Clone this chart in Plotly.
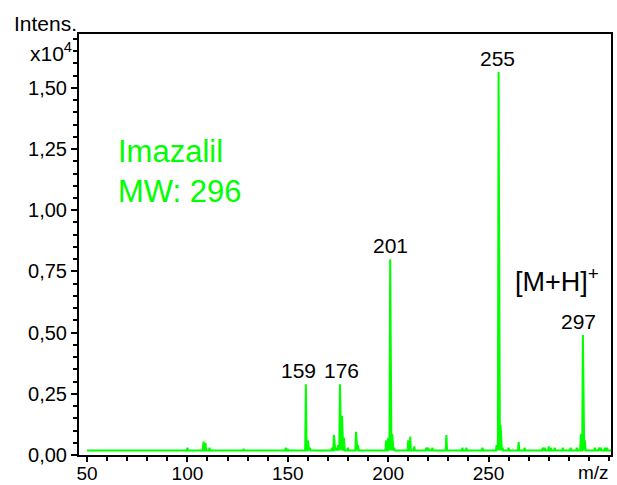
import plotly.graph_objects as go

# Mass spectrum of Imazalil (intensity in units of 1e4)
peak_mz = [100, 108, 109, 111, 128, 149, 150, 159, 160, 161, 172, 173, 174, 175, 176, 177, 178, 180,
           184, 185, 199, 200, 201, 202, 203, 210, 211, 213, 219, 220, 222, 229, 237, 239, 247,
           254, 255, 256, 257, 260, 265, 268, 277, 278, 280, 281, 283, 287, 291, 294, 296, 297, 298,
           303, 305, 306, 308, 309]
peak_int = [0.03, 0.055, 0.05, 0.03, 0.025, 0.03, 0.025, 0.289, 0.06, 0.03, 0.03, 0.082, 0.03, 0.04, 0.289, 0.16, 0.07, 0.03,
            0.095, 0.04, 0.06, 0.07, 0.80, 0.085, 0.03, 0.06, 0.075, 0.035, 0.03, 0.03, 0.03, 0.082, 0.03, 0.03, 0.03,
            0.04, 1.565, 0.123, 0.03, 0.03, 0.053, 0.03, 0.03, 0.03, 0.035, 0.03, 0.03, 0.03, 0.03, 0.03, 0.086, 0.49, 0.06,
            0.03, 0.03, 0.03, 0.03, 0.03]
baseline = 0.018
mz_start, mz_end = 50, 311

labeled_mz = [159, 176, 201, 255, 297]
label_xshift = [-7, 2, 0, -1, -4]

# Build a stick-profile trace from the peak list
xs = [mz_start]
ys = [baseline]
for m, h in sorted(zip(peak_mz, peak_int)):
    xs += [m - 0.35, m, m + 0.35]
    ys += [baseline, h, baseline]
xs.append(mz_end)
ys.append(baseline)

fig = go.Figure()
fig.add_trace(go.Scatter(x=xs, y=ys, mode="lines",
                         line=dict(color="#00ff00", width=2), hoverinfo="skip"))

font = "Arial"
lookup = dict(zip(peak_mz, peak_int))
for m, dx in zip(labeled_mz, label_xshift):
    fig.add_annotation(x=m, y=lookup[m], text=str(m), showarrow=False,
                       yanchor="bottom", yshift=0, xshift=dx,
                       font=dict(family=font, size=21, color="black"))

fig.add_annotation(x=0.07, y=0.72, xref="paper", yref="paper", text="Imazalil",
                   showarrow=False, xanchor="left", yanchor="middle",
                   font=dict(family=font, size=31, color="#00ff00"))
fig.add_annotation(x=0.07, y=0.627, xref="paper", yref="paper", text="MW: 296",
                   showarrow=False, xanchor="left", yanchor="middle",
                   font=dict(family=font, size=31, color="#00ff00"))
fig.add_annotation(x=0.815, y=0.416, xref="paper", yref="paper", text="[M+H]<sup>+</sup>",
                   showarrow=False, xanchor="left", yanchor="middle",
                   font=dict(family=font, size=27, color="black"))

# Axis titles
fig.add_annotation(x=0.0, y=1.025, xref="paper", yref="paper", text="Intens.",
                   showarrow=False, xanchor="right", yanchor="middle",
                   font=dict(family=font, size=21, color="black"))
fig.add_annotation(x=-0.01, y=0.957, xref="paper", yref="paper", text="x10<sup>4</sup>",
                   showarrow=False, xanchor="right", yanchor="middle",
                   font=dict(family=font, size=21, color="black"))
fig.add_annotation(x=1.0, y=-0.042, xref="paper", yref="paper", text="m/z",
                   showarrow=False, xanchor="right", yanchor="middle",
                   font=dict(family=font, size=19, color="black"))

fig.update_layout(
    width=617, height=485,
    margin=dict(l=79, r=6, t=34, b=30),
    plot_bgcolor="white", paper_bgcolor="white",
    separators=",.",
    showlegend=False,
    font=dict(family=font, size=20, color="black"),
)

fig.update_xaxes(range=[46, 311], ticks="outside", ticklen=5, automargin=False,
                 ticklabelstandoff=-5,
                 tickwidth=1.5, tickcolor="black", showline=True, linecolor="black",
                 linewidth=2, mirror=True, showgrid=False, zeroline=False,
                 tickvals=[50, 100, 150, 200, 250],
                 tickfont=dict(family=font, size=19),
                 minor=dict(dtick=10, tick0=50, ticks="outside", ticklen=4,
                            tickcolor="black", tickwidth=1.5, showgrid=False))
fig.update_yaxes(range=[0, 1.72], tick0=0, dtick=0.25, tickformat=".2f", ticks="outside",
                 ticklen=6, tickwidth=1.5, tickcolor="black", showline=True, automargin=False,
                 linecolor="black", linewidth=2, mirror=True, showgrid=False,
                 zeroline=False, tickfont=dict(family=font, size=20),
                 minor=dict(dtick=0.05, tick0=0, ticks="outside", ticklen=4,
                            tickcolor="black", tickwidth=1.5, showgrid=False))

fig.write_html("out.html")
